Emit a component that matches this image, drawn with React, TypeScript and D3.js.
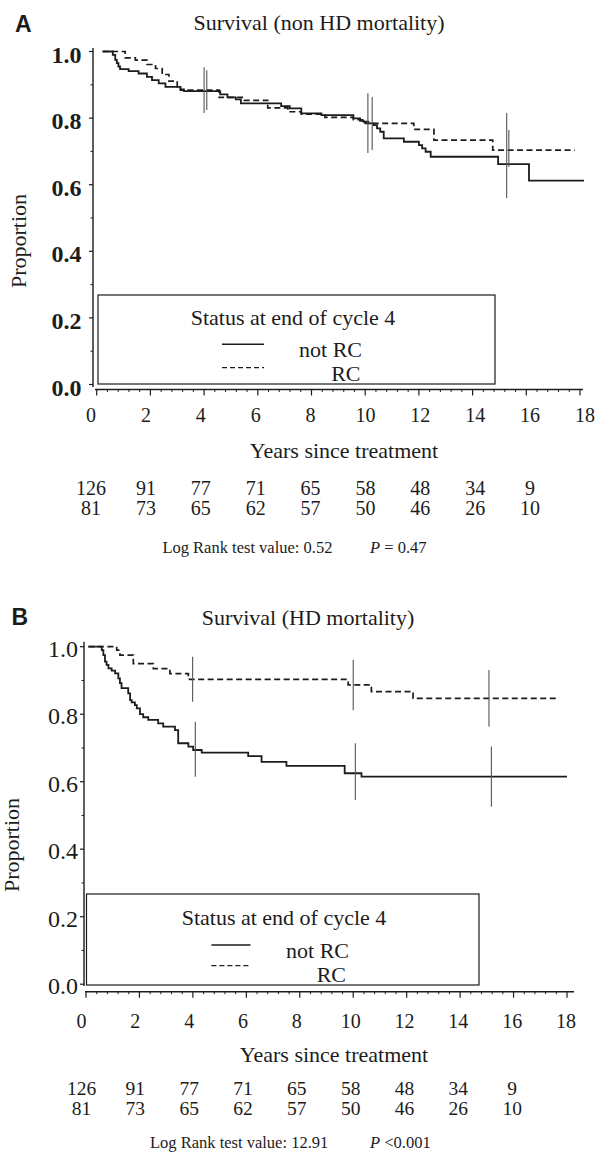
import React from "react";
import * as d3 from "d3";

const SERIF = "'Liberation Serif', 'Times New Roman', serif";
const SANS = "'Liberation Sans', Arial, sans-serif";
const INK = "#1c1c1c";

// axis ticks
const yearTicks = [0, 2, 4, 6, 8, 10, 12, 14, 16, 18];
const propTicks = [0, 0.2, 0.4, 0.6, 0.8, 1.0];

// numbers at risk
const riskYears = [0, 2, 4, 6, 8, 10, 12, 14, 16];
const atRiskNotRC = [126, 91, 77, 71, 65, 58, 48, 34, 9];
const atRiskRC = [81, 73, 65, 62, 57, 50, 46, 26, 10];

// panel A: [years, proportion], step after
const nonHdNotRC: [number, number][] = [
  [0.22, 1.0], [0.6, 0.99], [0.69, 0.975], [0.75, 0.965], [0.81, 0.955], [0.87, 0.947],
  [1.19, 0.941], [1.56, 0.934], [1.87, 0.924], [2.06, 0.914], [2.31, 0.904], [2.56, 0.894],
  [3.12, 0.886], [3.25, 0.881], [4.6, 0.871], [4.87, 0.862], [5.18, 0.856], [5.37, 0.844],
  [6.87, 0.836], [7.19, 0.829], [7.62, 0.814], [8.37, 0.809], [9.56, 0.799], [9.81, 0.792],
  [9.94, 0.789], [10.12, 0.784], [10.31, 0.779], [10.44, 0.769], [10.56, 0.759], [10.69, 0.739],
  [11.44, 0.729], [12.0, 0.719], [12.12, 0.709], [12.25, 0.699], [12.44, 0.684], [14.95, 0.662],
  [16.1, 0.612], [18.15, 0.612],
];
const nonHdRC: [number, number][] = [
  [0.22, 1.0], [1.06, 0.981], [1.44, 0.974], [1.87, 0.961], [2.19, 0.949], [2.44, 0.931],
  [2.69, 0.911], [3.0, 0.894], [3.12, 0.884], [4.56, 0.862], [5.5, 0.853], [6.37, 0.831],
  [7.12, 0.819], [7.62, 0.812], [8.5, 0.802], [9.56, 0.795], [10.0, 0.784], [11.81, 0.766],
  [12.56, 0.734], [14.75, 0.704], [17.8, 0.704],
];
// censor ticks: [years, top, bottom]
const nonHdCensor: [number, number, number][] = [
  [4.0, 0.953, 0.815], [4.1, 0.944, 0.824],
  [10.1, 0.875, 0.695], [10.26, 0.863, 0.704],
  [15.27, 0.815, 0.56], [15.35, 0.764, 0.653],
];

// panel B
const hdNotRC: [number, number][] = [
  [0.09, 1.0], [0.59, 0.99], [0.65, 0.975], [0.71, 0.956], [0.77, 0.946], [0.84, 0.936],
  [0.96, 0.929], [1.09, 0.921], [1.21, 0.906], [1.27, 0.892], [1.33, 0.877], [1.58, 0.862],
  [1.65, 0.842], [1.71, 0.835], [1.83, 0.827], [1.9, 0.817], [2.02, 0.8], [2.14, 0.791],
  [2.33, 0.783], [2.7, 0.773], [2.89, 0.763], [3.33, 0.753], [3.45, 0.714], [3.83, 0.704],
  [4.01, 0.694], [4.33, 0.686], [6.07, 0.676], [6.57, 0.659], [7.5, 0.647], [9.68, 0.625],
  [10.31, 0.615], [18.0, 0.615],
];
const hdRC: [number, number][] = [
  [0.09, 1.0], [1.15, 0.99], [1.27, 0.975], [1.77, 0.95], [2.52, 0.935], [3.14, 0.92],
  [3.83, 0.903], [9.81, 0.887], [10.68, 0.867], [12.24, 0.847], [17.7, 0.847],
];
const hdCensor: [number, number, number][] = [
  [3.99, 0.97, 0.837], [4.09, 0.778, 0.615],
  [10.0, 0.961, 0.812], [10.08, 0.714, 0.546],
  [15.08, 0.931, 0.763], [15.17, 0.704, 0.526],
];

type Layout = {
  letter: string; letterX: number; letterY: number;
  title: string; titleX: number; titleY: number;
  xRange: [number, number]; yRange: [number, number];
  yAxisX: number; yAxisTop: number; yAxisBottom: number;
  xAxisY: number; xAxisStart: number; xAxisEnd: number;
  yLabelX: number; yLabelDy: number; yLabelBold: boolean; yLabelSize: number;
  labelRange: [number, number]; xLabelY: number;
  axisTitleX: number; axisTitleY: number;
  row1Y: number; row2Y: number; rowSize: number;
  propX: number; propY: number;
  legend: [number, number, number, number];
  legTitleX: number; legTitleY: number;
  sampleX: [number, number]; solidY: number; dashY: number;
  notRcX: number; notRcY: number; rcX: number; rcY: number;
  rankX: number; rankY: number; pX: number;
  rank: string; pText: string;
};

const Panel = ({ L, notRC, rc, censor }: { L: Layout; notRC: [number, number][]; rc: [number, number][]; censor: [number, number, number][] }) => {
  const x = d3.scaleLinear().domain([0, 18]).range(L.xRange);
  const y = d3.scaleLinear().domain([0, 1]).range(L.yRange);
  const lx = d3.scaleLinear().domain([0, 18]).range(L.labelRange);
  const line = d3.line<[number, number]>().x((d) => x(d[0])).y((d) => y(d[1])).curve(d3.curveStepAfter);
  const xMinor = d3.range(0, 18.001, 0.4).filter((v) => Math.abs(v / 2 - Math.round(v / 2)) > 0.01);
  const yMinor = [0.1, 0.3, 0.5, 0.7, 0.9];

  return (
    <g fill={INK} fontFamily={SERIF}>
      <text x={L.letterX} y={L.letterY} fontFamily={SANS} fontWeight="bold" fontSize={23}>{L.letter}</text>
      <text x={L.titleX} y={L.titleY} textAnchor="middle" fontSize={22}>{L.title}</text>

      {/* y axis */}
      <line x1={L.yAxisX} x2={L.yAxisX} y1={L.yAxisTop} y2={L.yAxisBottom} stroke={INK} strokeWidth={1.4} />
      {propTicks.map((t) => (
        <g key={t}>
          <line x1={L.yAxisX - 4} x2={L.yAxisX} y1={y(t)} y2={y(t)} stroke={INK} strokeWidth={1.2} />
          <text x={L.yLabelX} y={y(t) + L.yLabelDy} textAnchor="end" fontSize={L.yLabelSize}
            fontWeight={L.yLabelBold ? "bold" : "normal"}>{t.toFixed(1)}</text>
        </g>
      ))}
      {yMinor.map((t) => (
        <line key={t} x1={L.yAxisX - 2.5} x2={L.yAxisX} y1={y(t)} y2={y(t)} stroke={INK} strokeWidth={1} />
      ))}
      <text transform={`translate(${L.propX},${L.propY}) rotate(-90)`} textAnchor="middle" fontSize={22}>Proportion</text>

      {/* x axis */}
      <line x1={L.xAxisStart} x2={L.xAxisEnd} y1={L.xAxisY} y2={L.xAxisY} stroke={INK} strokeWidth={1.4} />
      {yearTicks.map((t) => (
        <g key={t}>
          <line x1={x(t)} x2={x(t)} y1={L.xAxisY} y2={L.xAxisY + 6} stroke={INK} strokeWidth={1.2} />
          <text x={lx(t)} y={L.xLabelY} textAnchor="middle" fontSize={20}>{t}</text>
        </g>
      ))}
      {xMinor.map((t) => (
        <line key={t} x1={x(t)} x2={x(t)} y1={L.xAxisY} y2={L.xAxisY + 2.5} stroke={INK} strokeWidth={1} />
      ))}
      <text x={L.axisTitleX} y={L.axisTitleY} textAnchor="middle" fontSize={22}>Years since treatment</text>

      {/* curves */}
      <path d={line(notRC) ?? ""} fill="none" stroke={INK} strokeWidth={1.8} />
      <path d={line(rc) ?? ""} fill="none" stroke={INK} strokeWidth={1.7} strokeDasharray="6,3.5" />
      {censor.map((c, i) => (
        <line key={i} x1={x(c[0])} x2={x(c[0])} y1={y(c[1])} y2={y(c[2])} stroke="#555" strokeWidth={1.1} />
      ))}

      {/* legend */}
      <rect x={L.legend[0]} y={L.legend[1]} width={L.legend[2] - L.legend[0]} height={L.legend[3] - L.legend[1]}
        fill="none" stroke={INK} strokeWidth={1.2} />
      <text x={L.legTitleX} y={L.legTitleY} textAnchor="middle" fontSize={22}>Status at end of cycle 4</text>
      <line x1={L.sampleX[0]} x2={L.sampleX[1]} y1={L.solidY} y2={L.solidY} stroke={INK} strokeWidth={1.6} />
      <line x1={L.sampleX[0]} x2={L.sampleX[1]} y1={L.dashY} y2={L.dashY} stroke={INK} strokeWidth={1.2} strokeDasharray="5,3" />
      <text x={L.notRcX} y={L.notRcY} textAnchor="end" fontSize={22}>not RC</text>
      <text x={L.rcX} y={L.rcY} textAnchor="end" fontSize={22}>RC</text>

      {/* numbers at risk */}
      {riskYears.map((t, i) => (
        <g key={t} fontSize={L.rowSize} textAnchor="middle">
          <text x={lx(t)} y={L.row1Y}>{atRiskNotRC[i]}</text>
          <text x={lx(t)} y={L.row2Y}>{atRiskRC[i]}</text>
        </g>
      ))}

      <text x={L.rankX} y={L.rankY} fontSize={16.5}>{L.rank}</text>
      <text x={L.pX} y={L.rankY} fontSize={16.5}>
        <tspan fontStyle="italic">P</tspan>{L.pText}
      </text>
    </g>
  );
};

const layoutA: Layout = {
  letter: "A", letterX: 15, letterY: 31.5,
  title: "Survival (non HD mortality)", titleX: 319, titleY: 30,
  xRange: [96.7, 580], yRange: [384.5, 51.5],
  yAxisX: 93, yAxisTop: 48, yAxisBottom: 387,
  xAxisY: 389.5, xAxisStart: 95, xAxisEnd: 583,
  yLabelX: 81.6, yLabelDy: 11, yLabelBold: true, yLabelSize: 24,
  labelRange: [91, 585], xLabelY: 421.7,
  axisTitleX: 344, axisTitleY: 458.3,
  row1Y: 495, row2Y: 515, rowSize: 20,
  propX: 26, propY: 241,
  legend: [98, 295, 495, 384],
  legTitleX: 293, legTitleY: 325,
  sampleX: [222, 264], solidY: 344.3, dashY: 367.7,
  notRcX: 362, notRcY: 357, rcX: 360.5, rcY: 380.6,
  rankX: 162.4, rankY: 553, pX: 370,
  rank: "Log Rank test value: 0.52", pText: " = 0.47",
};

const layoutB: Layout = {
  letter: "B", letterX: 11.4, letterY: 625,
  title: "Survival (HD mortality)", titleX: 308, titleY: 625,
  xRange: [86, 567], yRange: [984.2, 646.7],
  yAxisX: 84, yAxisTop: 641.7, yAxisBottom: 986,
  xAxisY: 991.7, xAxisStart: 85, xAxisEnd: 574,
  yLabelX: 78, yLabelDy: 10, yLabelBold: false, yLabelSize: 24,
  labelRange: [81.5, 566], xLabelY: 1028.3,
  axisTitleX: 334, axisTitleY: 1061.7,
  row1Y: 1095, row2Y: 1115, rowSize: 19.5,
  propX: 18.5, propY: 845,
  legend: [86.5, 894, 479, 985],
  legTitleX: 284, legTitleY: 925,
  sampleX: [211.4, 250.5], solidY: 945, dashY: 965.7,
  notRcX: 349, notRcY: 958.3, rcX: 346, rcY: 981.7,
  rankX: 150, rankY: 1148, pX: 370,
  rank: "Log Rank test value: 12.91", pText: " <0.001",
};

export default function App() {
  return (
    <svg width={595} height={1165} style={{ position: "absolute", left: 0, top: 0, background: "#fff" }}>
      <Panel L={layoutA} notRC={nonHdNotRC} rc={nonHdRC} censor={nonHdCensor} />
      <Panel L={layoutB} notRC={hdNotRC} rc={hdRC} censor={hdCensor} />
    </svg>
  );
}
